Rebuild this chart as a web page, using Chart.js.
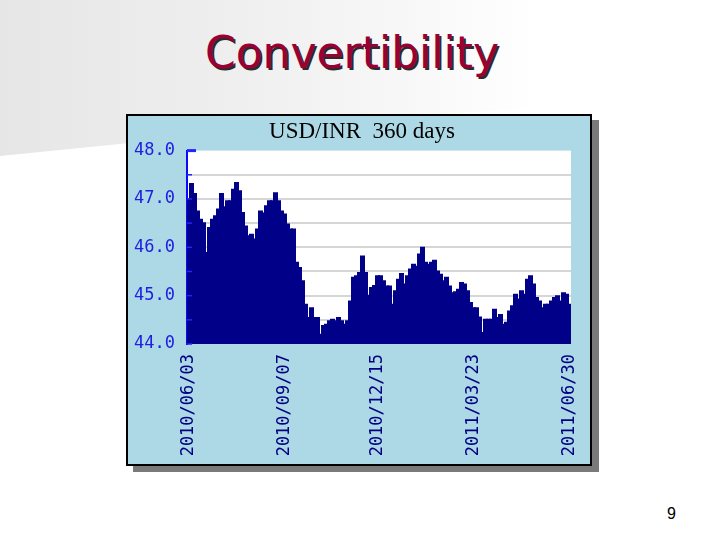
<!DOCTYPE html>
<html>
<head>
<meta charset="utf-8">
<script src="https://cdn.jsdelivr.net/npm/chart.js@4/dist/chart.umd.min.js"></script>
<style>
  html, body { margin: 0; padding: 0; }
  body { width: 720px; height: 540px; position: relative; overflow: hidden; background: #fff; font-family: 'DejaVu Sans', sans-serif; }
  .sheen {
    position: absolute; left: 0; top: 0; width: 720px; height: 160px;
    background: linear-gradient(to right, #e6e6e6 0%, #eeeeee 30%, #f7f7f7 55%, #fff 75%);
    clip-path: polygon(0 0, 720px 0, 720px 90px, 130px 143px, 0 156px);
  }
  .slide-title {
    position: absolute; left: -8px; top: 31px; width: 720px; text-align: center;
    font-size: 44px; line-height: 44px; color: #990033;
    text-shadow: 2px 2px 0 #2b2b2b;
  }
  .chart-box {
    position: absolute; left: 126px; top: 114px; width: 462px; height: 348px;
    border: 2px solid #000; background: #add8e6;
    box-shadow: 7px 6px 0 #7a7a7a;
  }
  .chart-box canvas { display: block; }
  .page-no { position: absolute; left: 667px; top: 505px; font: 16px 'Liberation Sans', sans-serif; color: #000; }
</style>
</head>
<body>
<div class="sheen"></div>
<div class="slide-title">Convertibility</div>
<div class="chart-box"><canvas id="fx" width="462" height="348"></canvas></div>
<div class="page-no">9</div>
<script>
// USD/INR daily close (one bar per ~3px)
const rates = [
  46.99, 47.31, 47.10, 46.74, 46.57, 46.50, 45.88, 46.40, 46.57, 46.64,
  46.78, 47.10, 46.83, 46.95, 46.95, 47.19, 47.33, 47.16, 46.71, 46.43,
  46.23, 46.26, 46.16, 46.37, 46.74, 46.70, 46.85, 46.95, 46.95, 47.12,
  46.95, 46.74, 46.68, 46.47, 46.37, 46.37, 45.68, 45.57, 45.30, 44.81,
  44.54, 44.74, 44.54, 44.54, 44.19, 44.37, 44.40, 44.47, 44.50, 44.47,
  44.54, 44.47, 44.40, 44.47, 44.88, 45.37, 45.40, 45.47, 45.81, 45.47,
  45.00, 45.16, 45.20, 45.40, 45.40, 45.30, 45.19, 45.19, 44.81, 45.09,
  45.33, 45.45, 45.23, 45.40, 45.54, 45.64, 45.60, 45.85, 45.99, 45.68,
  45.64, 45.68, 45.72, 45.50, 45.43, 45.30, 45.37, 45.19, 45.05, 45.07,
  45.12, 45.26, 45.23, 45.09, 44.85, 44.74, 44.74, 44.55, 44.23, 44.50,
  44.50, 44.50, 44.71, 44.54, 44.60, 44.40, 44.44, 44.67, 44.78, 45.02,
  44.92, 45.09, 45.02, 45.33, 45.40, 45.23, 44.95, 44.88, 44.74, 44.81,
  44.81, 44.88, 44.95, 44.99, 44.88, 45.05, 45.02, 44.81
];
const tickDates = ['2010/06/03', '2010/09/07', '2010/12/15', '2011/03/23', '2011/06/30'];
const tickAt = [0, 32, 63, 95, 127];
const yMin = 44, yMax = 48, yStep = 0.5;

const labels = rates.map((_, i) => {
  const k = tickAt.indexOf(i);
  return k >= 0 ? tickDates[k] : '';
});

// white plot area + short blue ticks on the inside of the left axis
const plotDecor = {
  id: 'plotDecor',
  beforeDraw(chart) {
    const { ctx, chartArea: a } = chart;
    ctx.save();
    ctx.fillStyle = '#fff';
    ctx.fillRect(a.left, a.top, a.right - a.left, a.bottom - a.top);
    ctx.restore();
  },
  afterDatasetsDraw(chart) {
    const { ctx, chartArea: a, scales: { y } } = chart;
    ctx.save();
    ctx.strokeStyle = '#2424ff';
    y.ticks.forEach((t) => {
      const py = y.getPixelForValue(t.value);
      ctx.lineWidth = t.value === yMax ? 3 : 1.5;
      ctx.beginPath();
      ctx.moveTo(a.left, py);
      ctx.lineTo(a.left + (t.value === yMax ? 9 : 5), py);
      ctx.stroke();
    });
    ctx.restore();
  },
};

new Chart(document.getElementById('fx'), {
  type: 'bar',
  data: {
    labels,
    datasets: [{
      data: rates,
      backgroundColor: '#000088',
      borderWidth: 0,
      inflateAmount: 1,
      barPercentage: 1,
      categoryPercentage: 1,
    }],
  },
  options: {
    responsive: false,
    animation: false,
    layout: { padding: { left: 6, right: 0, top: 0, bottom: 0 } },
    plugins: {
      legend: { display: false },
      tooltip: { enabled: false },
      title: {
        display: true,
        text: 'USD/INR  360 days',
        color: '#000',
        font: { family: 'Liberation Serif', size: 23, weight: 'normal' },
        padding: { top: 2, bottom: 5 },
      },
    },
    scales: {
      x: {
        grid: { display: false, drawTicks: false },
        border: { display: false },
        ticks: {
          autoSkip: false,
          minRotation: 90,
          maxRotation: 90,
          padding: 10,
          color: '#000080',
          font: { family: 'DejaVu Sans Mono', size: 17 },
          callback: (v, i) => labels[i],
        },
        afterFit: (s) => { s.height = 120; s.paddingLeft = 0; s.paddingRight = 19; },
      },
      y: {
        min: yMin,
        max: yMax,
        ticks: {
          stepSize: yStep,
          padding: 12,
          color: '#2020e0',
          font: { family: 'DejaVu Sans Mono', size: 17 },
          callback: (v) => (Number.isInteger(v) ? v.toFixed(1) : ''),
        },
        grid: {
          drawTicks: false,
          lineWidth: 2,
          color: (c) => (c.tick && (c.tick.value === yMax || c.tick.value === yMin) ? 'rgba(0,0,0,0)' : '#d6d6d6'),
        },
        border: { color: '#0a0aff', width: 2 },
        afterFit: (s) => { s.width = 53; },
      },
    },
  },
  plugins: [plotDecor],
});
</script>
</body>
</html>
